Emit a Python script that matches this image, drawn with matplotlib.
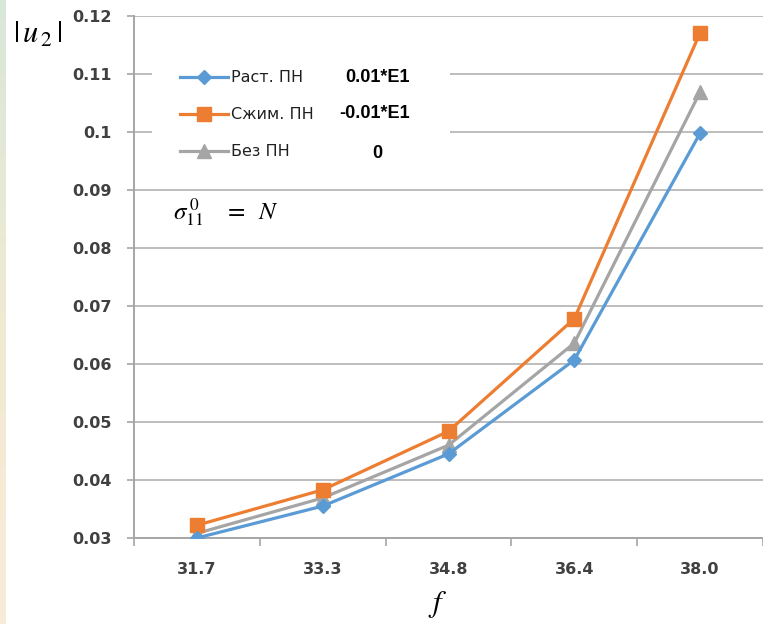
import numpy as np
import matplotlib
matplotlib.use("Agg")
import matplotlib.pyplot as plt
from matplotlib.patches import Rectangle

# ---- dati ----
freq_labels = ["31.7", "33.3", "34.8", "36.4", "38.0"]
u2_rast = [0.0300, 0.0355, 0.0445, 0.0607, 0.0998]   # Раст. ПН
u2_szhim = [0.0322, 0.0383, 0.0484, 0.0678, 0.1171]  # Сжим. ПН
u2_bez = [0.0308, 0.0369, 0.0460, 0.0636, 0.1069]    # Без ПН
series_names = ["Раст. ПН", "Сжим. ПН", "Без ПН"]
series_notes = ["0.01*E1", "-0.01*E1", "0"]
y_ticks = [0.03, 0.04, 0.05, 0.06, 0.07, 0.08, 0.09, 0.1, 0.11, 0.12]

c_blue = "#5b9bd5"
c_orange = "#ed7d31"
c_gray = "#a5a5a5"
tick_col = "#404040"

plt.rcParams["mathtext.fontset"] = "stix"

fig = plt.figure(figsize=(7.63, 6.24), dpi=100)

# striscia colorata a sinistra
ax_bg = fig.add_axes([0, 0, 6 / 763, 1])
grad = np.linspace(0, 1, 100).reshape(-1, 1)
cmap = matplotlib.colors.LinearSegmentedColormap.from_list("strip", ["#d9e7da", "#efead2", "#f8ecd8"])
ax_bg.imshow(grad, aspect="auto", cmap=cmap, origin="upper")
ax_bg.axis("off")

W, H = 629, 522  # dimensioni assi in pixel
ax = fig.add_axes([134 / 763, 1 - 538 / 624, W / 763, H / 624])

x = np.arange(len(freq_labels))
l1, = ax.plot(x, u2_rast, color=c_blue, lw=2.3, marker="D", ms=7, zorder=5)
l2, = ax.plot(x, u2_szhim, color=c_orange, lw=2.3, marker="s", ms=9.5, zorder=4)
l3, = ax.plot(x, u2_bez, color=c_gray, lw=2.3, marker="^", ms=9.5, zorder=3)

ax.set_xlim(-0.5, len(freq_labels) - 0.5)
ax.set_ylim(0.03, 0.12)
ax.set_yticks(y_ticks)
ax.set_yticklabels([f"{v:g}" for v in y_ticks])
ax.set_xticks(np.arange(-0.5, len(freq_labels) + 0.5), minor=False)
ax.set_xticklabels([])
ax.set_xticks(x, minor=True)
ax.set_xticklabels(freq_labels, minor=True)

ax.grid(axis="y", color="#bdbdbd", lw=1.4)
ax.set_axisbelow(True)
for s in ["top", "right"]:
    ax.spines[s].set_visible(False)
for s in ["left", "bottom"]:
    ax.spines[s].set_color("#a6a6a6")
    ax.spines[s].set_linewidth(1.4)

ax.tick_params(axis="y", direction="out", length=5, width=1.2, color="#a6a6a6",
               labelsize=11.5, labelcolor=tick_col, pad=11)
ax.tick_params(axis="x", which="major", direction="out", length=6, width=1.2, color="#a6a6a6")
ax.tick_params(axis="x", which="minor", length=0, labelsize=11.5, labelcolor=tick_col, pad=17)
for lab in ax.get_yticklabels() + ax.get_xticklabels(minor=True):
    lab.set_fontweight("bold")

# riquadro bianco dietro la legenda
ax.add_patch(Rectangle((18 / W, 1 - 165 / H), 298 / W, 120 / H, transform=ax.transAxes,
                       facecolor="white", edgecolor="none", zorder=2))

leg = ax.legend([l1, l2, l3], series_names, loc="upper left",
                bbox_to_anchor=(39 / W, 1 - 47 / H), frameon=False,
                fontsize=11.5, handlelength=3.0, handletextpad=0.2,
                labelspacing=1.38, borderpad=0.45, borderaxespad=0)
leg.set_zorder(6)
for t in leg.get_texts():
    t.set_color("#202020")

note_x = [410, 410, 377]
note_y = [77, 114, 153]
note_ha = ["right", "right", "center"]
for nt, nx, ny, ha in zip(series_notes, note_x, note_y, note_ha):
    fig.text(nx / 763, 1 - ny / 624, nt, fontsize=13, fontweight="bold",
             family="Liberation Sans", ha=ha, va="center", color="black")

fig.text(173 / 763, 1 - 212 / 624, r"$\sigma_{11}^{\,0}\;\;\;\;=\;\;N$", fontsize=18,
         ha="left", va="center")
fig.text(38 / 763, 1 - 34 / 624, r"$|\,u_{\,2}\,|$", fontsize=22,
         ha="center", va="center")
fig.text(438 / 763, 1 - 605 / 624, r"$f$", fontsize=22, ha="center", va="center")

fig.savefig("out.png", dpi=100)
